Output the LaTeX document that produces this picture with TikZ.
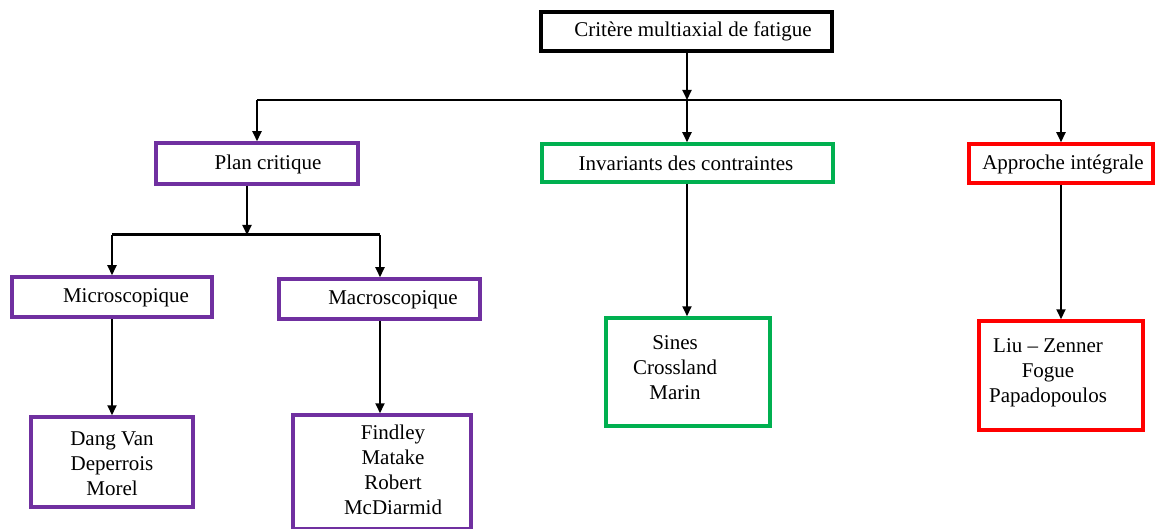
\documentclass[tikz,border=0pt]{standalone}
\usepackage{fontspec}
\setmainfont{Liberation Serif}
\usetikzlibrary{arrows.meta}
\definecolor{wpurple}{RGB}{112,48,160}
\definecolor{wgreen}{RGB}{0,176,80}
\definecolor{wred}{RGB}{255,0,0}
\begin{document}
\begin{tikzpicture}[x=1pt,y=-1pt,
  box/.style={draw,line width=3.5pt,inner sep=0pt,minimum width=#1},
  topbox/.style={draw=black,line width=4pt,inner sep=0pt},
  pbox/.style={box=#1,draw=wpurple},
  gbox/.style={box=#1,draw=wgreen},
  rbox/.style={box=#1,draw=wred},
  lbl/.style={inner sep=0pt,align=center,font=\fontsize{21}{25}\selectfont},
  conn/.style={line width=2pt},
  arr/.style={line width=2pt,-{Triangle[width=9pt,length=10pt]}}]
\useasboundingbox (0,0) rectangle (1156,529);
\fill[white] (0,0) rectangle (1156,529);
% boxes
\node[topbox,minimum width=291pt,minimum height=39pt] (top) at (686.5,31.5) {};
\node[pbox=202pt,minimum height=41pt] (plan) at (257,163.5) {};
\node[gbox=291pt,minimum height=38pt] (inv) at (687.5,163) {};
\node[rbox=184pt,minimum height=39pt] (app) at (1061,163.5) {};
\node[pbox=200pt,minimum height=40pt] (micro) at (112,297) {};
\node[pbox=201pt,minimum height=40pt] (macro) at (379.5,299) {};
\node[pbox=162pt,minimum height=90pt] (dang) at (112,462) {};
\node[pbox=178pt,minimum height=114pt] (find) at (382,472) {};
\node[gbox=164pt,minimum height=108pt] (sines) at (688,372) {};
\node[rbox=164pt,minimum height=109pt] (liu) at (1061,375.5) {};
% texts
\node[lbl] (ttop) at (693,31.5) {Critère multiaxial de fatigue};
\node[lbl] (tplan) at (268,164) {Plan critique};
\node[lbl] (tinv) at (686,163) {Invariants des contraintes};
\node[lbl] (tapp) at (1063,164) {Approche intégrale};
\node[lbl] (tmicro) at (126,298) {Microscopique};
\node[lbl] (tmacro) at (393,300) {Macroscopique};
\node[lbl] (tdang) at (112,464) {Dang Van\\Deperrois\\Morel};
\node[lbl] (tfind) at (393,470) {Findley\\Matake\\Robert\\McDiarmid};
\node[lbl] (tsines) at (675,368) {Sines\\Crossland\\Marin};
\node[lbl] (tliu) at (1048,373) {Liu -- Zenner\\Fogue\\Papadopoulos};
% junctions
\coordinate (j1) at (687,100);
\coordinate (jl) at (257,100);
\coordinate (jr) at (1061,100);
\coordinate (j2) at (247,235);
\coordinate (j2l) at (112,235);
\coordinate (j2r) at (380,235);
% connectors
\draw[arr] (top.south -| j1) -- (j1);
\draw[conn] (jl) -- (jr);
\draw[arr] (jl) -- (plan.north);
\draw[arr] (j1) -- (inv.north -| j1);
\draw[arr] (jr) -- (app.north);
\draw[arr] (plan.south -| j2) -- (j2);
\draw[line width=3pt] (j2l) -- (j2r);
\draw[arr] (j2l) -- (micro.north);
\draw[arr] (j2r) -- (macro.north -| j2r);
\draw[arr] (micro.south) -- (dang.north);
\draw[arr] (macro.south -| j2r) -- (find.north -| j2r);
\draw[arr] (inv.south -| j1) -- (sines.north -| j1);
\draw[arr] (app.south) -- (liu.north);
\end{tikzpicture}
\end{document}
